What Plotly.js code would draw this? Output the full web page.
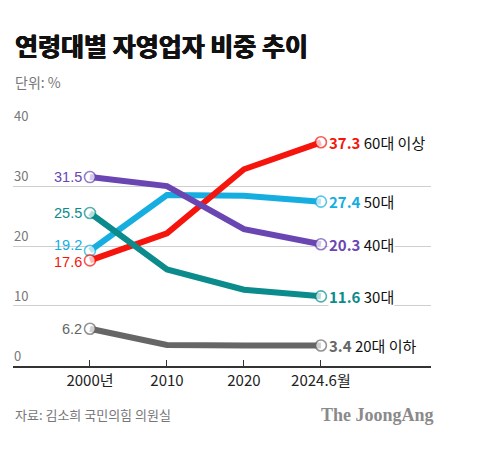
<!DOCTYPE html>
<html>
<head>
<meta charset="utf-8">
<script src="https://cdn.plot.ly/plotly-3.0.1.min.js"></script>
<style>
html,body{margin:0;padding:0;background:#fff;}
#chart{width:497px;height:449px;}
</style>
</head>
<body>
<div id="chart"></div>
<script>
const categories = ["2000년", "2010", "2020", "2024.6월"];
const yTicks = [0, 10, 20, 30, 40];
const yTickLabels = ["0", "10", "20", "30", "40"];

const seriesNames = ["20대 이하", "50대", "60대 이상", "30대", "40대"];
const age20 = [6.2, 3.5, 3.4, 3.4];
const age50 = [19.2, 28.5, 28.4, 27.4];
const age60 = [17.6, 22.1, 32.8, 37.3];
const age30 = [25.5, 16.1, 12.7, 11.6];
const age40 = [31.5, 30.0, 22.8, 20.3];
const seriesValues = [age20, age50, age60, age30, age40];
const seriesColors = ["#666666", "#16aee0", "#f5150c", "#0b8b8c", "#6a46b3"];
// pixel nudges for start labels (style only)
const startLabelShift = [0, 6, -2, 0, 0];

const FONT = "Noto Sans CJK KR, Noto Sans, sans-serif";
const NUMFONT = "Liberation Sans, Arial, sans-serif";

const traces = seriesValues.map((vals, i) => ({
  type: "scatter",
  mode: "lines+markers",
  x: categories,
  y: vals,
  name: seriesNames[i],
  line: {color: seriesColors[i], width: 6},
  marker: {
    color: "#ffffff",
    size: vals.map((v, j) => (j === 0 || j === vals.length - 1) ? 11 : 0),
    line: {color: seriesColors[i], width: vals.map((v, j) => (j === 0 || j === vals.length - 1) ? 1.6 : 0)}
  },
  hoverinfo: "skip",
  cliponaxis: false
}));

const last = categories.length - 1;
const annotations = [];

yTicks.forEach((t, k) => {
  annotations.push({
    xref: "paper", yref: "y", x: 0, y: t,
    xanchor: "left", yanchor: "bottom", yshift: 0,
    text: yTickLabels[k], showarrow: false,
    font: {family: FONT, size: 13, color: "#777777"},
    borderpad: 0
  });
});

seriesValues.forEach((vals, i) => {
  annotations.push({
    x: categories[0], y: vals[0], xref: "x", yref: "y",
    text: vals[0].toFixed(1), showarrow: false,
    xanchor: "right", yanchor: "middle", xshift: -7, yshift: startLabelShift[i],
    font: {family: NUMFONT, size: 14.5, color: seriesColors[i]},
    borderpad: 0
  });
  annotations.push({
    x: categories[last], y: vals[last], xref: "x", yref: "y",
    text: "<b><span style='color:" + seriesColors[i] + "'>" + vals[last].toFixed(1) + "</span></b> " + seriesNames[i],
    showarrow: false,
    xanchor: "left", yanchor: "middle", xshift: 7,
    font: {family: FONT, size: 15, color: "#111111"},
    bgcolor: "#ffffff", borderpad: 0
  });
});

annotations.push({
  xref: "paper", yref: "paper", x: 0, y: (366 - 45) / 240,
  xanchor: "left", yanchor: "middle", showarrow: false,
  text: "<b>연령대별 자영업자 비중 추이</b>",
  font: {family: FONT, size: 25, color: "#111111",
         shadow: "0.5px 0 0 #111111, -0.5px 0 0 #111111, 0 0.4px 0 #111111"}
});
annotations.push({
  xref: "paper", yref: "paper", x: 0, y: (366 - 82) / 240,
  xanchor: "left", yanchor: "middle", showarrow: false,
  text: "단위: %",
  font: {family: FONT, size: 14, color: "#777777"}
});
annotations.push({
  xref: "paper", yref: "paper", x: 0, y: (366 - 414) / 240,
  xanchor: "left", yanchor: "middle", showarrow: false,
  text: "자료: 김소희 국민의힘 의원실",
  font: {family: FONT, size: 13, color: "#777777"}
});
annotations.push({
  xref: "paper", yref: "paper", x: (436 - 13) / 418, y: (366 - 415) / 240,
  xanchor: "right", yanchor: "middle", showarrow: false,
  text: "<b>The JoongAng</b>",
  font: {family: "Liberation Serif, DejaVu Serif, serif", size: 18, color: "#8a8a8a"}
});

const layout = {
  width: 497, height: 449,
  margin: {l: 13, r: 66, t: 126, b: 83},
  paper_bgcolor: "#ffffff", plot_bgcolor: "#ffffff",
  showlegend: false,
  xaxis: {
    type: "category",
    range: [-1, 4.43],
    showgrid: false,
    zeroline: false,
    showline: true, linecolor: "#333333", linewidth: 1.5,
    ticks: "inside", ticklen: 6, tickcolor: "#333333", tickwidth: 1,
    tickfont: {family: FONT, size: 15, color: "#222222"},
    fixedrange: true
  },
  yaxis: {
    range: [-0.02, 40.02],
    tickvals: yTicks,
    showticklabels: false,
    showgrid: true, gridcolor: "#cfcfcf", gridwidth: 1,
    zeroline: false, showline: false,
    ticks: "",
    fixedrange: true
  },
  annotations: annotations
};

Plotly.newPlot("chart", traces, layout, {displayModeBar: false, staticPlot: true});
</script>
</body>
</html>
